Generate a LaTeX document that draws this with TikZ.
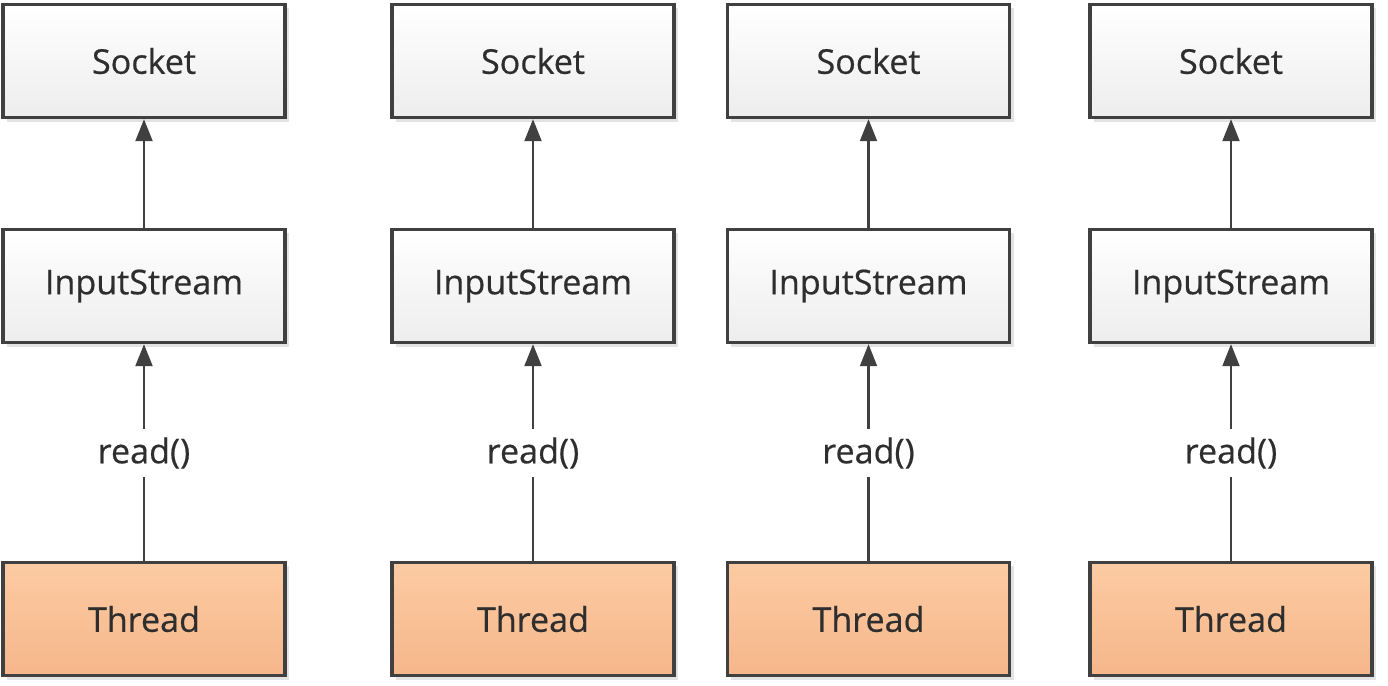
\documentclass[tikz,border=0pt]{standalone}
\usepackage{fontspec}
\setmainfont{Open Sans}
\newfontfamily\semif[FakeBold=0.5]{Open Sans}
\usetikzlibrary{arrows.meta,shadows}
\definecolor{edge}{HTML}{404040}
\definecolor{txt}{HTML}{2E2E2E}
\definecolor{thtop}{HTML}{FCCBA3}
\definecolor{thbot}{HTML}{F6B68A}
\definecolor{gtop}{HTML}{FFFFFF}
\definecolor{gbot}{HTML}{EDEDED}
\tikzset{
  box/.style={draw=edge, line width=0.95pt, minimum width=2.82cm, minimum height=1.13cm,
    text=txt, font=\semif\fontsize{9.7}{11}\selectfont,
    drop shadow={shadow xshift=0.04cm, shadow yshift=-0.04cm, fill=black!18, opacity=0.6}},
  grey/.style={box, top color=gtop, bottom color=gbot},
  thr/.style={box, top color=thtop, bottom color=thbot},
  lbl/.style={text=txt, font=\semif\fontsize{9.7}{11}\selectfont, inner sep=0.08cm},
  conn/.style={draw=edge, line width=0.6pt},
  arr/.style={conn, -{Triangle[width=0.17cm, length=0.22cm]}}
}
\begin{document}
\begin{tikzpicture}[x=0.01cm, y=-0.01cm]
\useasboundingbox (0,0) rectangle (1388,686);
\foreach \i/\cx in {1/144, 2/533, 3/868.5, 4/1231}{
  \node[grey] (s\i) at (\cx,61) {Socket};
  \node[grey] (i\i) at (\cx,286) {InputStream};
  \node[thr] (t\i) at (\cx,619) {Thread};
  \node[lbl] (r\i) at (\cx,453) {read()};
  \draw[arr] (i\i.north) -- (s\i.south);
  \draw[conn] (t\i.north) -- (r\i.south);
  \draw[arr] (r\i.north) -- (i\i.south);
}
\end{tikzpicture}
\end{document}
